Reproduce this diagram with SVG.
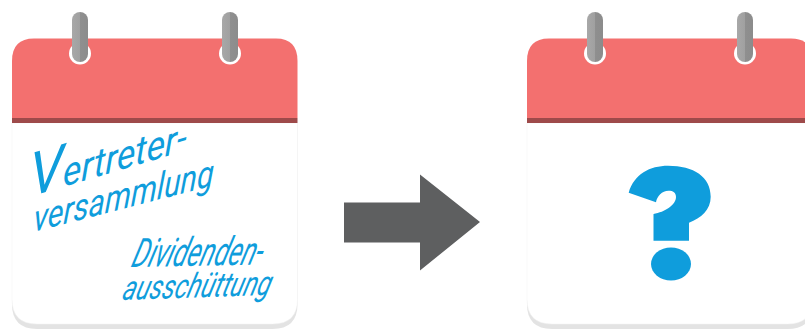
<svg xmlns="http://www.w3.org/2000/svg" width="805" height="329" viewBox="0 0 805 329">
<defs>
<linearGradient id="ringFill" x1="0" x2="1" y1="0" y2="0"><stop offset="0" stop-color="#a8a8a8"/><stop offset="0.5" stop-color="#a0a0a0"/><stop offset="0.5" stop-color="#8f8f8f"/><stop offset="1" stop-color="#8c8c8c"/></linearGradient>
<g id="calendar">
<path d="M12 123H297.500V304Q297.500 329 272.500 329H37Q12 329 12 304Z" fill="#e3e3e3"/>
<path d="M12 123H297.500V299Q297.500 324 272.500 324H37Q12 324 12 299Z" fill="#fff" stroke="#f3f3f3" stroke-width="0.500"/>
<path d="M12 118V61Q12 38.500 34 38.500H276Q297.500 38.500 297.500 61V118Z" fill="#f3706f"/>
<rect x="12" y="118" width="285.500" height="5" fill="#9e4a4a"/>
<circle cx="80" cy="53.500" r="11" fill="#fff"/>
<circle cx="230" cy="53.500" r="11" fill="#fff"/>
<rect x="72" y="12" width="16" height="50" rx="8" fill="url(#ringFill)"/>
<rect x="222" y="12" width="16" height="50" rx="8" fill="url(#ringFill)"/>
</g>
</defs>
<style>.hand{font-family:"Roboto","Liberation Sans",sans-serif;font-style:italic;font-weight:400;fill:#0f9ddc}</style>
<g id="calendar-left">
<use href="#calendar"/>
<text class="hand" font-size="38" textLength="164" lengthAdjust="spacingAndGlyphs" transform="translate(29 197) rotate(-16.500) skewX(-18)"><tspan font-size="58">V</tspan>ertreter-</text>
<text class="hand" font-size="36" textLength="186" lengthAdjust="spacingAndGlyphs" transform="translate(33 232) rotate(-14.500) skewX(-18)">versammlung</text>
<text class="hand" font-size="40" textLength="130" lengthAdjust="spacingAndGlyphs" transform="translate(130 267) rotate(-1) skewX(-18)">Dividenden-</text>
<text class="hand" font-size="34" textLength="148" lengthAdjust="spacingAndGlyphs" transform="translate(121 300) rotate(-2) skewX(-18)">ausschüttung</text>
</g>
<g id="calendar-right">
<use href="#calendar" x="515"/>
<path fill="#0f9ddc" d="M628.700 192.700C634 174 650 165.700 668 165.700C694 165.700 710.700 177 710.700 196.700C710.700 210 701 218 689 222.700V240.700H653.500V214C665 212 676 205 676 197C676 192.500 673 190.700 668.500 190.700C662 190.700 657 196 656 202.300Z"/>
<ellipse cx="671" cy="264" rx="20" ry="16.500" fill="#0f9ddc"/>
</g>
<g id="connectors">
<polygon points="344,202.500 420,202.500 420,174.500 480,222 420,270.500 420,242.500 344,242.500" fill="#5e5f60"/>
</g>
</svg>
